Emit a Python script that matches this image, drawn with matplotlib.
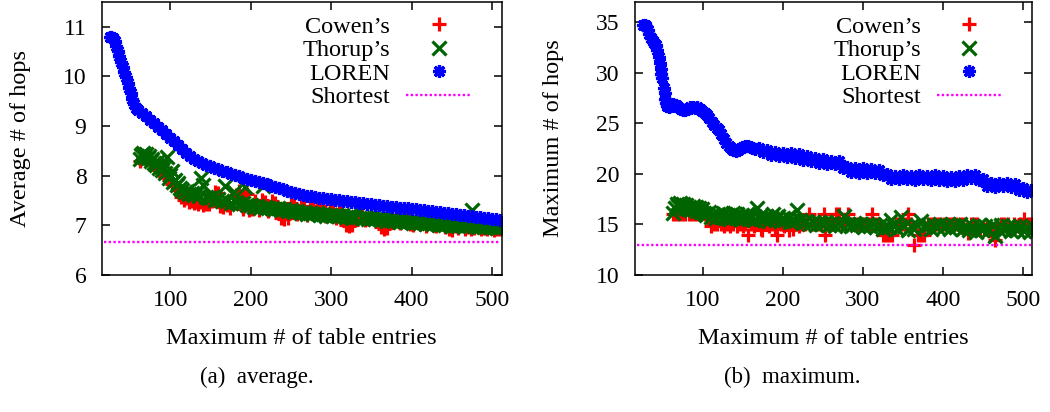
import matplotlib
matplotlib.use("Agg")
import matplotlib.pyplot as plt

plt.rcParams['font.family'] = ['Liberation Serif', 'DejaVu Serif']

# ---------------- (a) average number of hops ----------------
loren_avg_x = [25, 27, 29, 31, 33, 35, 37, 39, 41, 43, 45, 47, 49, 51, 53, 55, 57] + list(range(60, 511, 5))
loren_avg = [10.80, 10.80, 10.78, 10.72, 10.62, 10.51, 10.41, 10.30, 10.19, 10.09, 9.98, 9.87, 9.77, 9.66, 9.55, 9.45, 9.37,
             9.33, 9.27, 9.20, 9.13, 9.06, 8.99, 8.92, 8.84, 8.77, 8.69,
             8.61, 8.54, 8.46, 8.39, 8.33, 8.29, 8.26, 8.22, 8.19, 8.16,
             8.13, 8.10, 8.07, 8.04, 8.01, 7.99, 7.96, 7.94, 7.92, 7.89,
             7.87, 7.85, 7.83, 7.80, 7.78, 7.75, 7.73, 7.70, 7.68, 7.66,
             7.63, 7.62, 7.60, 7.59, 7.57, 7.56, 7.55, 7.54, 7.53,
             7.52, 7.51, 7.50, 7.49, 7.48, 7.47, 7.46, 7.45, 7.44, 7.43,
             7.42, 7.41, 7.40, 7.39, 7.38, 7.37, 7.36, 7.35, 7.34, 7.33,
             7.32, 7.31, 7.30, 7.29, 7.28, 7.27, 7.26, 7.25, 7.24, 7.23,
             7.22, 7.21, 7.20, 7.19, 7.18, 7.17, 7.16, 7.15, 7.14, 7.13,
             7.12, 7.11]

thorup_avg_x = [62, 64, 66, 68, 70, 72, 74, 76, 78, 80, 82, 84, 86, 88, 90, 92, 94, 96, 98, 100,
                102, 104, 106, 108, 110, 112, 115, 118, 121, 124, 127, 130, 133, 136, 138, 141, 144, 148, 152, 156,
                160, 164, 168, 171, 175, 179, 182, 186, 190, 193, 196, 200, 204, 208, 212, 215, 218, 222, 226, 230,
                234, 238, 242, 246, 250, 254, 258, 262, 266, 270, 274, 278, 282, 286, 290, 294, 298, 302, 306, 310,
                314, 318, 322, 326, 330, 335, 338, 342, 346, 350, 354, 358, 362, 366, 370, 374, 378, 382, 386, 390,
                394, 398, 402, 406, 410, 414, 418, 422, 426, 430, 434, 438, 442, 446, 450, 454, 458, 462, 466, 470,
                475, 478, 482, 486, 490, 494, 498, 502, 506, 510]
thorup_avg = [8.33, 8.42, 8.45, 8.38, 8.43, 8.36, 8.40, 8.30, 8.33, 8.25, 8.22, 8.27, 8.15, 8.20, 8.12, 8.18, 8.05, 8.38, 7.96, 8.02,
              8.10, 7.88, 7.92, 7.82, 7.86, 7.75, 7.72, 7.68, 7.70, 7.64, 7.66, 7.62, 7.65, 7.60, 7.95, 7.82, 7.58, 7.55, 7.57, 7.52,
              7.54, 7.49, 7.80, 7.50, 7.46, 7.68, 7.47, 7.43, 7.45, 7.78, 7.41, 7.42, 7.38, 7.40, 7.36, 7.80, 7.37, 7.34, 7.36, 7.32,
              7.34, 7.30, 7.32, 7.28, 7.30, 7.27, 7.29, 7.25, 7.27, 7.23, 7.25, 7.22, 7.24, 7.20, 7.22, 7.19, 7.21, 7.19, 7.21, 7.18,
              7.20, 7.16, 7.18, 7.15, 7.17, 7.30, 7.14, 7.16, 7.13, 7.15, 7.12, 7.14, 7.10, 7.12, 7.09, 7.11, 7.08, 7.10, 7.07, 7.09,
              7.06, 7.08, 7.05, 7.07, 7.04, 7.06, 7.03, 7.05, 7.02, 7.04, 7.01, 7.03, 7.00, 7.02, 6.99, 7.01, 6.99, 7.00, 6.98, 7.00,
              7.31, 6.99, 6.97, 6.99, 6.96, 6.98, 6.96, 6.97, 6.95, 6.96]

cowen_avg_x = [62, 66, 70, 74, 78, 82, 86, 90, 94, 98, 102, 106, 110, 114, 117, 120, 123, 126, 129, 132,
               135, 138, 141, 144, 148, 152, 156, 159, 162, 166, 170, 174, 178, 182, 185, 188, 191, 195, 198, 202,
               206, 210, 214, 218, 222, 226, 230, 234, 238, 242, 246, 250, 254, 258, 262, 266, 270, 274, 278, 282,
               286, 290, 294, 298, 302, 306, 310, 314, 318, 322, 326, 330, 334, 338, 342, 346, 350, 354, 358, 362,
               366, 370, 374, 378, 382, 386, 390, 394, 398, 402, 406, 410, 414, 418, 422, 426, 430, 434, 438, 442,
               446, 450, 454, 458, 462, 466, 470, 474, 478, 482, 486, 490, 494, 498, 502, 506, 510]
cowen_avg = [8.30, 8.38, 8.36, 8.33, 8.26, 8.18, 8.12, 8.08, 8.00, 7.92, 7.84, 7.80, 7.72, 7.58, 7.52, 7.55, 7.48, 7.50, 7.46, 7.48,
             7.44, 7.47, 7.42, 7.44, 7.43, 7.50, 7.68, 7.65, 7.40, 7.38, 7.42, 7.36, 7.45, 7.62, 7.70, 7.58, 7.32, 7.64, 7.30, 7.33,
             7.50, 7.30, 7.52, 7.48, 7.28, 7.50, 7.46, 7.26, 7.15, 7.12, 7.14, 7.45, 7.42, 7.22, 7.40, 7.38, 7.20, 7.40, 7.36, 7.38,
             7.40, 7.33, 7.18, 7.32, 7.30, 7.15, 7.30, 7.28, 7.00, 6.98, 7.00, 7.14, 7.24, 7.20, 7.10, 7.12, 7.18, 7.20, 7.08, 6.96,
             6.92, 6.95, 7.16, 7.10, 7.18, 7.04, 7.08, 7.12, 7.03, 7.00, 7.08, 7.02, 7.10, 6.99, 7.05, 7.00, 6.98, 7.04, 7.02, 6.96,
             6.92, 6.90, 6.98, 6.94, 7.00, 6.93, 6.96, 6.92, 6.95, 6.97, 6.93, 6.95, 6.92, 6.94, 6.91, 6.93, 6.92]

shortest_avg = 6.66

# ---------------- (b) maximum number of hops ----------------
loren_max_x = [25, 27, 29, 31, 33, 35, 37, 39, 41, 43, 45, 46, 47, 48, 49, 51, 52, 53, 54, 55, 57] \
    + list(range(60, 166, 3)) + list(range(170, 511, 5))
loren_max = [34.7, 34.7, 34.6, 34.2, 33.8, 33.4, 33.1, 32.9, 32.7, 32.3,
             31.6, 31.0, 30.4, 29.9, 29.5, 28.5, 28.0, 27.4, 27.0, 26.7, 26.6,
             26.7, 26.9, 26.8, 26.6, 26.4, 26.3, 26.3, 26.4, 26.6, 26.6,
             26.5, 26.6, 26.4, 26.2, 26.0, 25.8, 25.5, 25.1, 24.8, 24.5,
             24.3, 23.9, 23.5, 23.1, 22.8, 22.6, 22.4, 22.3, 22.4, 22.6,
             22.7, 22.8, 22.8, 22.7, 22.6, 22.5,
             22.6, 22.2, 22.4, 21.9, 22.2, 21.8, 22.1, 21.7, 22.1, 21.6,
             22.0, 21.4, 21.8, 21.3, 21.6, 21.1, 21.5, 21.0, 21.3, 21.0,
             21.3, 20.6, 20.7, 20.2, 20.6, 20.1, 20.6, 20.1, 20.5, 20.1,
             20.4, 19.9, 20.0, 19.5, 19.8, 19.5, 19.9, 19.5, 19.8, 19.4,
             19.9, 19.5, 19.8, 19.4, 19.9, 19.4, 19.8, 19.3, 19.7, 19.3,
             19.8, 19.4, 19.9, 19.6, 19.9, 19.4, 19.5, 18.8, 19.1, 18.7,
             19.1, 18.8, 19.1, 18.7, 19.0, 18.4, 18.6, 18.2, 18.4]

thorup_max_x = [63, 65, 67, 69, 71, 73, 75, 77, 79, 81, 83, 85, 87, 89, 91, 93, 95, 97, 99, 101,
                104, 107, 110, 113, 116, 119, 122, 125, 128, 131, 134, 137, 140, 143, 146, 149, 152, 155, 158, 161,
                164, 167, 170, 173, 176, 179, 182, 185, 188, 191, 194, 197, 200, 203, 206, 209, 212, 215, 218, 221,
                225, 229, 233, 237, 241, 245, 249, 253, 257, 261, 265, 269, 273, 277, 281, 285, 289, 293, 297, 301,
                305, 309, 313, 317, 321, 325, 329, 333, 335, 339, 343, 348, 352, 356, 360, 364, 368, 373, 377, 381,
                385, 389, 393, 397, 401, 405, 409, 413, 417, 421, 425, 429, 433, 437, 441, 445, 449, 453, 457, 461,
                465, 469, 473, 477, 481, 485, 489, 493, 497, 501, 505, 509, 511]
thorup_max = [16.1, 16.6, 17.0, 16.8, 17.1, 16.7, 17.0, 16.6, 16.9, 16.5, 16.7, 16.4, 16.8, 16.5, 16.7, 16.3, 16.6, 16.2, 16.5, 16.1,
              15.9, 16.2, 15.7, 16.0, 15.6, 16.0, 15.7, 16.1, 15.6, 15.9, 15.5, 16.1, 15.7, 16.0, 15.5, 15.9, 15.6, 16.0, 15.5, 15.8,
              15.4, 16.6, 15.6, 15.9, 15.4, 15.8, 15.3, 15.7, 16.0, 15.5, 15.8, 15.3, 15.6, 15.4, 15.7, 15.2, 15.5, 15.3, 16.4, 15.4,
              15.1, 15.3, 15.0, 15.2, 14.9, 15.2, 15.0, 15.2, 14.9, 15.1, 14.8, 15.1, 14.9, 15.8, 15.0, 14.8, 15.1, 14.9, 15.0, 14.7,
              15.0, 14.8, 15.0, 14.7, 14.9, 14.6, 14.9, 14.7, 15.4, 14.8, 14.6, 15.7, 14.8, 14.5, 14.8, 14.6, 14.9, 15.3, 14.7, 14.9,
              14.6, 14.9, 14.7, 15.0, 14.7, 14.9, 14.6, 14.9, 14.7, 15.0, 14.6, 14.8, 14.5, 14.8, 14.3, 14.9, 14.5, 14.8, 14.4, 14.9,
              13.9, 14.6, 14.9, 14.5, 14.8, 14.4, 14.8, 14.5, 14.8, 14.4, 14.7, 14.3, 14.8]

cowen_max_x = [62, 66, 70, 74, 78, 82, 86, 90, 94, 98, 102, 106, 110, 114, 118, 122, 126, 130, 134, 138,
               142, 146, 150, 153, 156, 160, 164, 168, 172, 174, 178, 182, 186, 190, 193, 197, 201, 205, 208, 212,
               216, 220, 224, 228, 233, 236, 240, 244, 247, 251, 253, 257, 261, 264, 266, 270, 274, 278, 281, 285,
               289, 293, 297, 301, 305, 309, 312, 316, 320, 325, 329, 333, 337, 341, 345, 349, 353, 356, 360, 364,
               369, 373, 377, 381, 385, 389, 393, 397, 401, 405, 409, 413, 417, 421, 425, 431, 435, 439, 443, 447,
               451, 455, 459, 465, 469, 473, 477, 481, 485, 489, 493, 497, 502, 506, 510]
cowen_max = [16, 16, 16, 16, 16, 16, 16, 16, 16, 16, 16, 15.6, 14.8, 15, 15, 15, 14.8, 15, 14.8, 15,
             14.8, 15, 14.8, 15, 14, 15, 14.8, 15, 14.6, 14.5, 15, 14.8, 15, 14.6, 14, 15, 14.8, 15, 14.5, 14.6,
             15, 14.8, 15, 15, 16, 15, 15, 15, 15, 16, 14, 15, 15, 15, 16, 16, 15, 15, 16, 15,
             15, 15, 15, 15, 15, 15, 16, 15, 15, 14, 14, 14, 14, 15, 15, 15, 15, 16, 15, 13,
             14, 14, 14, 15, 15, 15, 15, 15, 15, 15, 15, 15, 15, 15, 15, 14.2, 15, 15, 15, 14.5,
             14.6, 14.7, 14.4, 13.5, 14.6, 15, 15, 15, 14.6, 15, 14.8, 15, 15.5, 15, 15]

shortest_max = 13

x_span = [18, 510]
x_ticks = [100, 200, 300, 400, 500]

fig = plt.figure(figsize=(10.5, 4.12), dpi=100)
ax1 = fig.add_axes([0.0969, 0.3325, 0.381, 0.6626])
ax2 = fig.add_axes([0.6048, 0.3325, 0.3784, 0.6626])

mk = dict(linestyle='none', markersize=9.4, markeredgewidth=2.3)


def draw(ax, cx, cy, tx, ty, lx, ly, short):
    ax.plot(cx, cy, marker='+', color='#ff0000', label='Cowen\u2019s', **mk)
    ax.plot(tx, ty, marker='x', color='#006400', label='Thorup\u2019s', **mk)
    ax.plot(lx, ly, marker=(8, 2, 0), color='#0000ff', label='LOREN', **mk)
    ax.plot(x_span, [short, short], color='#ff00ff', linestyle=(0, (1, 1)), linewidth=1.7, label='Shortest')
    ax.set_xlim(15, 512)
    ax.set_xticks(x_ticks)
    ax.tick_params(direction='in', top=True, right=True, length=6, width=1.1, labelsize=17, pad=11)
    for s in ax.spines.values():
        s.set_linewidth(1.1)
    ax.set_xlabel('Maximum # of table entries', fontsize=17.5)
    ax.xaxis.set_label_coords(0.5, -0.195)
    ax.legend(loc='upper right', bbox_to_anchor=(0.924, 0.95), frameon=False, markerfirst=False,
              handlelength=2.7, handletextpad=0.65, labelspacing=0.06, borderpad=0, borderaxespad=0,
              numpoints=1, fontsize=17.5)


draw(ax1, cowen_avg_x, cowen_avg, thorup_avg_x, thorup_avg, loren_avg_x, loren_avg, shortest_avg)
ax1.set_ylim(6, 11.5)
ax1.set_yticks([6, 7, 8, 9, 10, 11])
ax1.set_ylabel('Average # of hops', fontsize=17.5)
ax1.yaxis.set_label_coords(-0.177, 0.5)

draw(ax2, cowen_max_x, cowen_max, thorup_max_x, thorup_max, loren_max_x, loren_max, shortest_max)
ax2.set_ylim(10, 37)
ax2.set_yticks([10, 15, 20, 25, 30, 35])
ax2.set_ylabel('Maximum # of hops', fontsize=17.5)
ax2.yaxis.set_label_coords(-0.18, 0.5)

fig.text(257 / 1050, 1 - 377 / 412, '(a)  average.', ha='center', va='center', fontsize=16.5)
fig.text(792 / 1050, 1 - 377 / 412, '(b)  maximum.', ha='center', va='center', fontsize=16.5)

fig.savefig('out.png', dpi=100)
